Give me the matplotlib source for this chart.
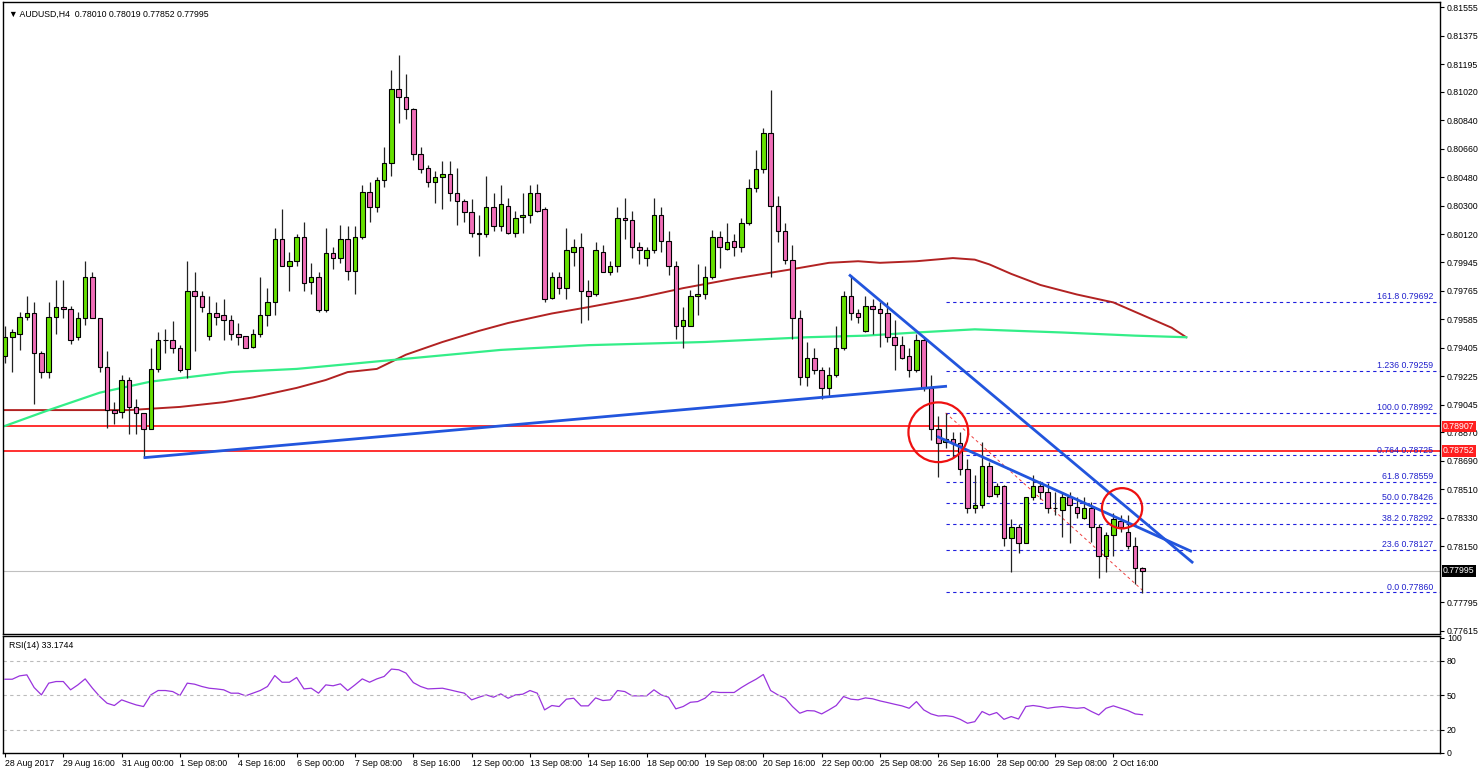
import numpy as np
import matplotlib
matplotlib.use("Agg")
import matplotlib.pyplot as plt

plt.rcParams['font.family'] = ['Liberation Sans', 'DejaVu Sans']

# ---------------- data (price x 10000) ----------------
opens = [7935,7947,7949,7960,7962,7937,7925,7960,7966,7965,
7947,7959,7985,7959,7928,7901,7900,7920,7903,7899,
7889,7927,7945,7945,7940,7927,7976,7973,7948,7962,
7961,7958,7949,7948,7941,7949,7961,7969,8009,7992,
7995,8010,7982,7985,7964,8000,7997,8009,7989,8010,
8039,8029,8046,8057,8104,8099,8091,8063,8054,8045,
8048,8050,8038,8033,8026,8013,8012,8029,8017,8030,
8013,8023,8024,8038,8028,7972,7985,7978,8001,8004,
7976,7974,8001,7988,7992,8022,8021,8004,7997,8002,
8024,8008,7992,7954,7954,7973,7974,7985,8010,8003,
8008,8004,8019,8041,8053,8076,8030,8014,7996,7959,
7922,7934,7926,7915,7923,7940,7973,7962,7951,7967,
7965,7962,7947,7942,7935,7926,7945,7915,7889,7881,
7883,7880,7864,7839,7841,7866,7848,7853,7820,7827,
7817,7846,7853,7849,7839,7838,7846,7840,7833,7839,
7827,7809,7822,7831,7824,7815,7801.0]
highs = [7954,7952,7963,7973,7969,7938,7969,7983,7983,7967,
7963,7995,7988,7959,7938,7906,7923,7922,7908,7899,
7940,7950,7952,7957,7942,7995,7988,7976,7973,7969,
7971,7961,7956,7948,7952,7985,7978,8016,8028,8001,
8012,8020,7994,7988,8016,8004,8018,8017,8017,8043,
8045,8048,8067,8116,8125,8113,8092,8067,8056,8052,
8058,8058,8054,8034,8034,8024,8049,8038,8043,8035,
8027,8038,8043,8044,8029,7988,7988,8016,8009,8013,
7983,8007,8005,7995,8029,8035,8027,8007,8004,8035,
8029,8014,7995,7966,7977,7993,7992,8015,8014,8019,
8012,8022,8047,8065,8079,8103,8036,8019,8005,7964,
7944,7940,7928,7928,7954,7976,7986,7965,7973,7971,
7969,7969,7958,7948,7940,7949,7947,7923,7897,7899,
7887,7887,7870,7860,7881,7868,7855,7854,7832,7829,
7846,7860,7856,7855,7849,7849,7849,7846,7846,7843,
7829,7824,7836,7835,7835,7821,7801.9]
lows = [7931,7925,7939,7958,7905,7921,7921,7949,7959,7943,
7945,7955,7959,7925,7890,7892,7896,7886,7886,7871,
7889,7925,7937,7937,7925,7921,7938,7963,7945,7955,
7945,7945,7942,7940,7940,7947,7954,7961,7992,7976,
7992,7976,7974,7963,7963,7990,7994,7983,7974,8009,
8020,8026,8042,8049,8082,8085,8059,8051,8042,8032,
8028,8033,8018,8020,8010,7998,8010,8014,8014,8012,
8010,8013,8019,8026,7969,7971,7974,7971,7992,7956,
7958,7973,7988,7986,7988,8009,7997,7993,7992,8000,
8001,7986,7946,7940,7954,7961,7971,7984,7991,8002,
7998,8001,8018,8039,8051,7985,8007,7993,7946,7917,
7916,7924,7908,7910,7922,7939,7958,7956,7950,7949,
7941,7944,7926,7933,7922,7925,7913,7882,7859,7877,
7871,7860,7836,7836,7839,7846,7846,7815,7799,7811,
7817,7844,7845,7836,7835,7821,7817,7833,7832,7818,
7795,7799,7809,7824,7813,7791,7785.2]
closes = [7947,7950,7960,7962,7937,7925,7960,7966,7965,7945,
7959,7985,7959,7928,7901,7899,7920,7903,7899,7889,
7927,7945,7945,7940,7926,7976,7973,7966,7962,7960,
7958,7949,7947,7940,7949,7961,7969,8009,7992,7995,
8010,7981,7985,7964,8000,7997,8009,7989,8010,8039,
8029,8046,8057,8104,8099,8091,8063,8053,8045,8048,
8050,8038,8033,8026,8013,8012,8029,8017,8031,8013,
8022,8024,8038,8027,7971,7985,7978,8002,8004,7976,
7973,8002,7988,7992,8022,8021,8004,8002,8002,8024,
8008,7992,7954,7958,7973,7974,7985,8010,8004,8007,
8004,8019,8041,8053,8076,8030,8014,7996,7959,7922,
7934,7926,7915,7923,7940,7973,7962,7960,7967,7965,
7962,7947,7942,7934,7926,7945,7915,7889,7880,7883,
7880,7864,7839,7841,7866,7847,7853,7820,7827,7817,
7846,7853,7849,7839,7839,7846,7841,7836,7839,7827,
7809,7822,7832,7827,7815,7801,7799.5]
rsi = [64.0,64.0,66.9,67.8,56.8,50.4,60.6,62.0,62.0,54.8,
59.1,64.3,56.2,49.0,43.2,41.2,46.1,43.8,41.7,40.3,
50.4,54.2,54.2,53.3,49.9,60.6,59.7,57.7,56.2,55.6,
54.8,51.9,51.9,49.6,51.9,54.2,57.7,67.2,61.4,61.4,
65.5,55.6,56.2,51.9,59.1,58.3,60.0,54.2,59.1,64.3,
61.4,64.3,66.4,72.8,72.2,69.3,61.1,57.7,55.6,55.9,
56.2,54.8,53.3,51.9,46.1,48.4,50.4,48.4,51.3,47.5,
50.4,51.0,54.2,51.9,37.4,41.2,40.3,46.7,47.5,
40.9,40.9,47.8,45.5,46.1,54.2,53.3,49.6,49.6,49.6,
54.8,50.4,48.4,38.3,40.3,44.0,44.6,47.5,53.3,52.5,
52.5,52.5,56.8,60.6,64.0,68.1,54.2,50.4,47.5,40.3,
34.5,36.8,36.5,33.9,37.4,41.2,49.0,46.7,46.1,47.8,
47.0,45.2,43.8,42.3,40.9,38.8,44.6,37.4,33.9,32.1,
32.4,31.6,29.2,25.8,27.2,36.0,33.0,35.1,29.2,31.6,
29.5,40.3,41.2,40.3,38.8,39.7,40.3,39.4,38.8,39.4,
36.0,33.0,38.8,40.9,38.8,36.8,33.9,33.2]

ma_red_bars = [0,17,24,26,30,34,40,44,47,51,55,60,65,69,75,80,87,93,100,108,113,117,120,125,130,133,135,138,142,147,152,157,160,162]
ma_red_vals = [7901,7901,7903,7904,7906,7909,7915,7920,7925,7927,7936,7944,7951,7956,7962,7966,7972,7978,7984,7990,7994,7995,7994,7995,7997,7996,7993,7987,7980,7974,7969,7959,7953,7947]
ma_grn_bars = [0,6,13,20,31,40,54,68,80,96,110,118,125,133,145,155,162]
ma_grn_vals = [7891,7901,7912,7919,7925,7927,7933,7939,7942,7944,7947,7948,7950,7952,7950,7948,7947]

hlines_red = [0.78907, 0.78752]
fib_labels = ["161.8", "1.236", "100.0", "0.764", "61.8", "50.0", "38.2", "23.6", "0.0"]
fib_levels = [0.79692, 0.79259, 0.78992, 0.78725, 0.78559, 0.78426, 0.78292, 0.78127, 0.77860]
trend_lines = [((19.2, 0.7871), (129, 0.7916)),
               ((115.9, 0.7986), (162.8, 0.7805)),
               ((128, 0.7884), (162.6, 0.7812))]
circles = [(128, 0.7887, 1850), (153.2, 0.7839, 840)]
ytick_vals = [0.81555,0.81375,0.81195,0.81020,0.80840,0.80660,0.80480,0.80300,0.80120,
              0.79945,0.79765,0.79585,0.79405,0.79225,0.79045,0.78870,0.78690,0.78510,
              0.78330,0.78150,0.77795,0.77615]
xtick_labels = ['28 Aug 2017','29 Aug 16:00','31 Aug 00:00','1 Sep 08:00','4 Sep 16:00',
                '6 Sep 00:00','7 Sep 08:00','8 Sep 16:00','12 Sep 00:00','13 Sep 08:00',
                '14 Sep 16:00','18 Sep 00:00','19 Sep 08:00','20 Sep 16:00','22 Sep 00:00',
                '25 Sep 08:00','26 Sep 16:00','28 Sep 00:00','29 Sep 08:00','2 Oct 16:00']
last_price = 0.77995

# ---------------- figure ----------------
o = np.array(opens)/1e4; h = np.array(highs)/1e4
l = np.array(lows)/1e4; c = np.array(closes)/1e4
x = np.arange(len(o))
FS = 6.3

W, H = 1480, 772
fig = plt.figure(figsize=(W/100, H/100), dpi=100)
fig.patch.set_facecolor('white')
ax = fig.add_axes([3/W, 1-634/H, 1437/W, 632/H])
ax2 = fig.add_axes([3/W, 1-753/H, 1437/W, 117/H])
xl = (-0.27, 196.8)

up = c >= o
green, pink = '#66e000', '#f06eb8'
ax.vlines(x, l, h, color='#222222', lw=0.9, zorder=3)
bottoms = np.minimum(o, c)
heights = np.maximum(np.abs(c - o), 0.000012)
ax.bar(x, heights, bottom=bottoms, width=0.62, color=np.where(up, green, pink),
       edgecolor='black', linewidth=0.8, zorder=4)

ax.plot(np.array(ma_red_bars), np.array(ma_red_vals)/1e4, color='#b22222', lw=1.4, zorder=2)
ax.plot(np.array(ma_grn_bars), np.array(ma_grn_vals)/1e4, color='#33ee88', lw=1.6, zorder=2)

for y in hlines_red:
    ax.axhline(y, color='#ff2020', lw=1.3, zorder=1)
ax.axhline(last_price, color='#c0c0c0', lw=0.8, zorder=1)

for lab, lv in zip(fib_labels, fib_levels):
    ax.plot([129, xl[1]], [lv, lv], color='#2020dd', lw=0.8, ls=(0, (3, 3)), zorder=1)
    ax.text(195.9, lv + 0.00004, f"{lab} {lv:.5f}", color='#2020cc', fontsize=FS,
            ha='right', va='bottom', zorder=5)
ax.plot([129, 156.3], [0.78992, 0.77860], color='#ee4040', lw=0.7, ls=(0, (3, 3)), zorder=2)

for (x0, y0), (x1, y1) in trend_lines:
    ax.plot([x0, x1], [y0, y1], color='#2255dd', lw=2.0, zorder=5)
for cx, cy, s in circles:
    ax.scatter([cx], [cy], s=s, facecolors='none', edgecolors='#ee1111', linewidths=1.6, zorder=6)

ax.set_xlim(*xl)
ax.set_ylim(0.77596, 0.81587)
ax.yaxis.tick_right()
ax.set_yticks(ytick_vals)
ax.set_yticklabels([f"{v:.5f}" for v in ytick_vals], fontsize=FS)
ax.tick_params(axis='y', length=3, pad=2)
ax.set_xticks([])
for lbl, val, fc in [("0.78907", 0.78907, '#ff2020'), ("0.78752", 0.78752, '#ff2020'),
                     ("0.77995", last_price, 'black')]:
    ax.text(1.002, val, lbl, transform=ax.get_yaxis_transform(), fontsize=FS, color='white',
            va='center', ha='left', bbox=dict(boxstyle='square,pad=0.15', fc=fc, ec='none'),
            clip_on=False, zorder=7)
ax.text(0.004, 0.988, "\u25bc AUDUSD,H4  0.78010 0.78019 0.77852 0.77995", transform=ax.transAxes,
        fontsize=FS, va='top', ha='left')

# RSI
ax2.plot(x, rsi, color='#9933dd', lw=0.9)
for lv in (80, 50, 20):
    ax2.axhline(lv, color='#bbbbbb', lw=0.8, ls=(0, (3, 3)))
ax2.set_xlim(*xl)
ax2.set_ylim(0, 101.5)
ax2.yaxis.tick_right()
ax2.set_yticks([0, 20, 50, 80, 100])
ax2.set_yticklabels(['0', '20', '50', '80', '100'], fontsize=FS)
ax2.tick_params(axis='y', length=3, pad=2)
ax2.text(0.004, 0.96, "RSI(14) 33.1744", transform=ax2.transAxes, fontsize=FS, va='top')
ticks = np.arange(0, 8*len(xtick_labels), 8)
ax2.set_xticks(ticks)
ax2.set_xticklabels(xtick_labels, fontsize=FS, ha='left')
ax2.tick_params(axis='x', length=3, pad=1)
for a in (ax, ax2):
    for s in a.spines.values():
        s.set_linewidth(1.0)

fig.savefig('out.png', dpi=100, facecolor='white')
